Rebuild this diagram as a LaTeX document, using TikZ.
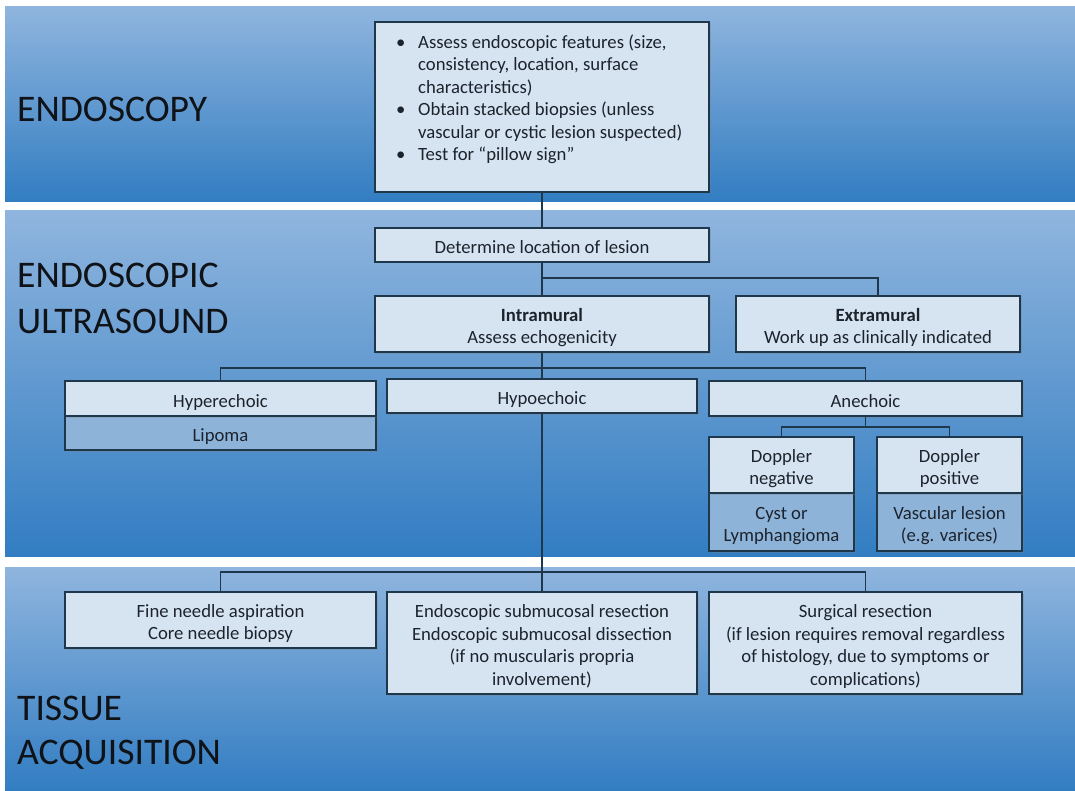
\documentclass[tikz,border=0pt]{standalone}
\usepackage{fontspec}
\setmainfont{Carlito}
\usetikzlibrary{shadows}
\definecolor{bandtop}{RGB}{143,181,222}
\definecolor{bandbot}{RGB}{50,125,194}
\definecolor{boxfill}{RGB}{214,228,241}
\definecolor{subfill}{RGB}{141,179,217}
\definecolor{boxline}{RGB}{30,55,75}
\definecolor{txtcol}{RGB}{28,35,45}
\definecolor{labcol}{RGB}{15,18,22}
\newcommand\btxt[1]{\raisebox{-4pt}[\height][\depth]{\begin{tabular}{@{}c@{}}#1\end{tabular}}}
\begin{document}
\begin{tikzpicture}[x=1pt,y=-1pt,
  box/.style={draw=boxline, line width=1.3pt, fill=boxfill, inner sep=0pt,
    text=txtcol, font=\fontsize{18.7}{22.5}\selectfont,
    drop shadow={shadow xshift=1.5pt, shadow yshift=-1.5pt, opacity=0.3}},
  sub/.style={box, fill=subfill},
  conn/.style={draw=boxline, line width=1.3pt},
  lab/.style={anchor=base west, inner sep=0pt, text=labcol, font=\fontsize{37.6}{37.6}\selectfont}]
\useasboundingbox (0,0) rectangle (1075,791);
\fill[white] (0,0) rectangle (1075,791);
% bands
\shade[top color=bandtop, bottom color=bandbot] (5,7) rectangle (1075,202);
\shade[top color=bandtop, bottom color=bandbot] (5,211) rectangle (1075,556);
\shade[top color=bandtop, bottom color=bandbot] (5,567) rectangle (1075,791);
% section labels
\node[lab] (l1) at (17,122) {ENDOSCOPY};
\node[lab] (l2) at (17,288) {ENDOSCOPIC};
\node[lab] (l3) at (17,333) {ULTRASOUND};
\node[lab] (l4) at (17,720) {TISSUE};
\node[lab] (l5) at (17,764) {ACQUISITION};
% boxes
\node[box, minimum width=334, minimum height=170] (top) at (542,107) {};
\node[anchor=north west, inner sep=0pt, text=txtcol, font=\fontsize{18.7}{22.5}\selectfont, align=left] (toptxt) at (396,32.5)
{\begin{tabular}{@{}l@{}l@{}}
\makebox[22pt][l]{\textbullet} & Assess endoscopic features (size,\\
 & consistency, location, surface\\
 & characteristics)\\
\makebox[22pt][l]{\textbullet} & Obtain stacked biopsies (unless\\
 & vascular or cystic lesion suspected)\\
\makebox[22pt][l]{\textbullet} & Test for “pillow sign”
\end{tabular}};
\node[box, minimum width=334, minimum height=34] (det) at (542,245) {\btxt{Determine location of lesion}};
\node[box, minimum width=334, minimum height=56] (intra) at (542,324) {\btxt{\textbf{Intramural}\\Assess echogenicity}};
\node[box, minimum width=284, minimum height=56] (extra) at (878,324) {\btxt{\textbf{Extramural}\\Work up as clinically indicated}};
\node[sub, minimum width=311, minimum height=34] (lipoma) at (220.5,433) {\btxt{Lipoma}};
\node[box, minimum width=311, minimum height=35] (hyper) at (220.5,398.5) {\btxt{Hyperechoic}};
\node[box, minimum width=310, minimum height=34] (hypo) at (542,396) {\btxt{Hypoechoic}};
\node[box, minimum width=313, minimum height=35] (anech) at (865.5,398.5) {\btxt{Anechoic}};
\node[sub, minimum width=145, minimum height=58] (cyst) at (781.5,522) {\btxt{Cyst or\\Lymphangioma}};
\node[box, minimum width=145, minimum height=56] (dneg) at (781.5,465) {\btxt{Doppler\\negative}};
\node[sub, minimum width=145, minimum height=58] (vasc) at (949.5,522) {\btxt{Vascular lesion\\(e.g. varices)}};
\node[box, minimum width=145, minimum height=56] (dpos) at (949.5,465) {\btxt{Doppler\\positive}};
\node[box, minimum width=311, minimum height=56] (fna) at (220.5,620) {\btxt{Fine needle aspiration\\Core needle biopsy}};
\node[box, minimum width=310, minimum height=102] (esr) at (542,643) {\btxt{Endoscopic submucosal resection\\Endoscopic submucosal dissection\\(if no muscularis propria\\involvement)}};
\node[box, minimum width=313, minimum height=102] (surg) at (865.5,643) {\btxt{Surgical resection\\(if lesion requires removal regardless\\of histology, due to symptoms or\\complications)}};
% junctions
\coordinate (j1) at (542,278);
\coordinate (j2) at (542,368);
\coordinate (j3) at (865.5,427);
\coordinate (j4) at (542,572);
% connectors
\draw[conn] (top.south) -- (det.north);
\draw[conn] (det.south) -- (intra.north);
\draw[conn] (j1) -| (extra.north);
\draw[conn] (intra.south) -- (hypo.north);
\draw[conn] (j2) -| (hyper.north);
\draw[conn] (j2) -| (anech.north);
\draw[conn] (anech.south) -- (j3);
\draw[conn] (j3) -| (dneg.north);
\draw[conn] (j3) -| (dpos.north);
\draw[conn] (hypo.south) -- (esr.north);
\draw[conn] (j4) -| (fna.north);
\draw[conn] (j4) -| (surg.north);
\end{tikzpicture}
\end{document}
